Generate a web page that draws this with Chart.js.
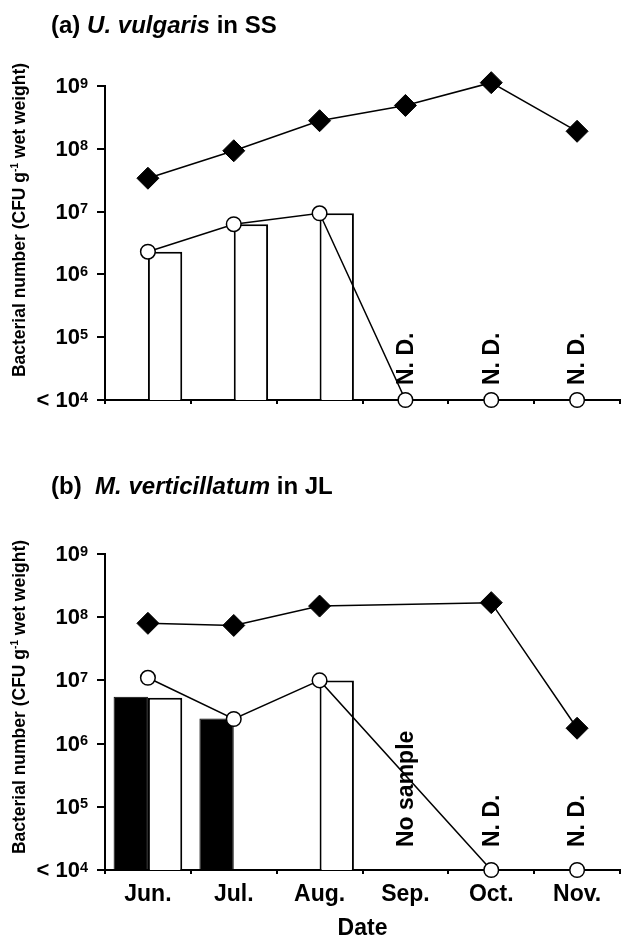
<!DOCTYPE html>
<html>
<head>
<meta charset="utf-8">
<script src="https://cdn.jsdelivr.net/npm/chart.js@4.4.1/dist/chart.umd.min.js"></script>
<style>
  html, body { margin: 0; padding: 0; background: #fff; overflow: hidden; }
  body { width: 625px; height: 938px; position: relative; font-family: "Liberation Sans", Arial, sans-serif; color: #000; }
  canvas { position: absolute; left: 0; }
  .ptitle { position: absolute; font-weight: bold; font-size: 23px; line-height: 1; white-space: nowrap;
            transform: scaleX(1.045); transform-origin: 0 0; }
  .ytitle { position: absolute; font-weight: bold; font-size: 17.5px; line-height: 1; white-space: nowrap;
            transform: translate(-50%, -50%) rotate(-90deg); }
  .ytitle sup { font-size: 10px; vertical-align: 0; position: relative; top: -7px; }
</style>
</head>
<body>
<canvas id="chartA" width="632" height="420" style="top:0"></canvas>
<canvas id="chartB" width="632" height="530" style="top:420px"></canvas>

<div class="ptitle" style="left:51px;top:14px">(a) <i>U. vulgaris</i> in SS</div>
<div class="ytitle" style="left:20px;top:220px">Bacterial number (CFU g<sup>-1</sup> wet weight)</div>

<div class="ptitle" style="left:51px;top:475px">(b)&nbsp; <i>M. verticillatum</i> in JL</div>
<div class="ytitle" style="left:20px;top:697px">Bacterial number (CFU g<sup>-1</sup> wet weight)</div>

<script>
// Sampling months and y-axis decades
const months = ['Jun.', 'Jul.', 'Aug.', 'Sep.', 'Oct.', 'Nov.'];
const yTicks = [1e4, 1e5, 1e6, 1e7, 1e8, 1e9];

// (a) U. vulgaris in SS — detection limit (<10^4) plotted at 1e4
const aDiamond  = [3.4e7, 9.3e7, 2.8e8, 4.9e8, 1.13e9, 1.9e8];
const aCircle   = [2.3e6, 6.3e6, 9.4e6, 1e4, 1e4, 1e4];
const aFilledBar = [null, null, null, null, null, null];
const aOpenBar  = [2.3e6, 6.3e6, 9.4e6, null, null, null];
const aNotes    = [null, null, null, 'N. D.', 'N. D.', 'N. D.'];

// (b) M. verticillatum in JL — no sample in September
const bDiamond  = [8.0e7, 7.4e7, 1.5e8, null, 1.7e8, 1.75e6];
const bCircle   = [1.1e7, 2.45e6, 1.0e7, null, 1e4, 1e4];
const bFilledBar = [5.5e6, 2.5e6, null, null, null, null];
const bOpenBar  = [5.3e6, null, 1.0e7, null, null, null];
const bNotes    = [null, null, null, 'No sample', 'N. D.', 'N. D.'];

const FONT = '"Liberation Sans", Arial, sans-serif';
Chart.defaults.font.family = FONT;
Chart.defaults.color = '#000';

// Powers of ten with raised exponents next to the y ticks
const powerTicks = {
  id: 'powerTicks',
  afterDraw(chart) {
    const y = chart.scales.y;
    const ctx = chart.ctx;
    ctx.save();
    ctx.fillStyle = '#000';
    ctx.textBaseline = 'alphabetic';
    ctx.textAlign = 'right';
    y.ticks.forEach(t => {
      const py = y.getPixelForValue(t.value);
      const exp = String(Math.round(Math.log10(t.value)));
      const right = y.right - 17;
      ctx.font = 'bold 14.5px ' + FONT;
      const supW = ctx.measureText(exp).width;
      ctx.fillText(exp, right, py + 1.5);
      ctx.font = 'bold 22px ' + FONT;
      const base = (t.value === y.min ? '< ' : '') + '10';
      ctx.fillText(base, right - supW, py + 7);
    });
    ctx.restore();
  }
};

// Vertical notes ("N. D.", "No sample") standing on the x axis
const notes = {
  id: 'notes',
  afterDatasetsDraw(chart, args, opts) {
    const items = opts.items || [];
    const x = chart.scales.x, y = chart.scales.y;
    const ctx = chart.ctx;
    ctx.save();
    ctx.fillStyle = '#000';
    ctx.font = 'bold 23px ' + FONT;
    ctx.textAlign = 'left';
    ctx.textBaseline = 'middle';
    items.forEach((txt, i) => {
      if (!txt) return;
      const px = x.getPixelForValue(i);
      const py = y.getPixelForValue(y.min) - opts.gap;
      ctx.save();
      ctx.translate(px, py);
      ctx.rotate(-Math.PI / 2);
      ctx.fillText(txt, 0, 1);
      ctx.restore();
    });
    ctx.restore();
  }
};

function buildChart(id, d) {
  return new Chart(document.getElementById(id), {
    type: 'bar',
    data: {
      labels: months,
      datasets: [
        { type: 'line', data: d.circle, order: 0, clip: false, spanGaps: true,
          borderColor: '#000', borderWidth: 1.5, tension: 0,
          pointStyle: 'circle', pointRadius: 7.3, pointBackgroundColor: '#fff',
          pointBorderColor: '#000', pointBorderWidth: 1.5 },
        { type: 'line', data: d.diamond, order: 1, clip: false, spanGaps: true,
          borderColor: '#000', borderWidth: 1.5, tension: 0,
          pointStyle: 'rectRot', pointRadius: 11, pointBackgroundColor: '#000',
          pointBorderColor: '#000', pointBorderWidth: 1 },
        { data: d.filledBar, order: 2, backgroundColor: '#000', borderColor: '#000',
          borderWidth: 1, barPercentage: 1, categoryPercentage: 0.8 },
        { data: d.openBar, order: 3, backgroundColor: '#fff', borderColor: '#000',
          borderWidth: 2, barPercentage: 1, categoryPercentage: 0.8 }
      ]
    },
    options: {
      responsive: false,
      animation: false,
      events: [],
      layout: { padding: { top: d.top, right: 3, left: 0, bottom: 0 } },
      plugins: {
        legend: { display: false },
        tooltip: { enabled: false },
        notes: { items: d.notes, gap: d.noteGap }
      },
      scales: {
        x: {
          offset: true,
          grid: { offset: true, drawOnChartArea: false, tickLength: 4, lineWidth: 2, color: '#000' },
          border: { width: 2, color: '#000' },
          ticks: { display: d.showMonths, autoSkip: false, maxRotation: 0, padding: 7,
                   color: '#000', font: { size: 23, weight: 'bold' } },
          title: { display: d.showMonths, text: 'Date', color: '#000',
                   font: { size: 23, weight: 'bold' }, padding: { top: 0, bottom: 8 } },
          afterFit: s => { s.height = d.xHeight; }
        },
        y: {
          type: 'logarithmic',
          min: yTicks[0],
          max: yTicks[yTicks.length - 1],
          afterBuildTicks: s => { s.ticks = yTicks.map(v => ({ value: v })); },
          afterFit: s => { s.width = 105; },
          ticks: { callback: () => '' },
          grid: { drawOnChartArea: false, tickLength: 8, lineWidth: 2, color: '#000' },
          border: { width: 2, color: '#000' }
        }
      }
    },
    plugins: [powerTicks, notes]
  });
}

buildChart('chartA', {
  circle: aCircle, diamond: aDiamond, filledBar: aFilledBar, openBar: aOpenBar,
  notes: aNotes, noteGap: 15, top: 86, xHeight: 20, showMonths: false
});

buildChart('chartB', {
  circle: bCircle, diamond: bDiamond, filledBar: bFilledBar, openBar: bOpenBar,
  notes: bNotes, noteGap: 23, top: 134, xHeight: 80, showMonths: true
});
</script>
</body>
</html>
